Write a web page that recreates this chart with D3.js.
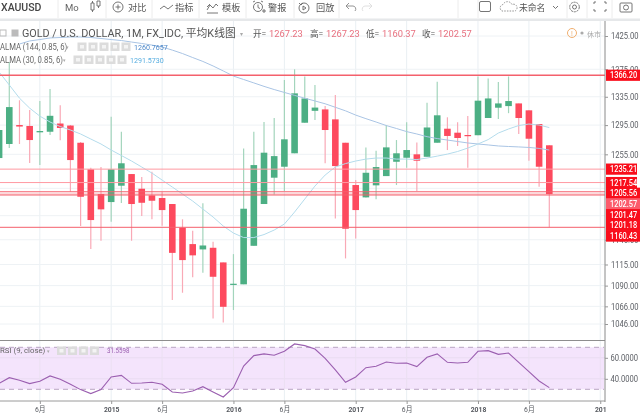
<!DOCTYPE html>
<html><head><meta charset="utf-8">
<script src="https://cdnjs.cloudflare.com/ajax/libs/d3/7.8.5/d3.min.js"></script>
<style>
html,body{margin:0;padding:0;background:#fff;overflow:hidden}
svg{display:block;filter:blur(0.4px)}
text{font-family:Roboto,"Noto Sans CJK SC",sans-serif}
</style></head><body><svg id="c" width="640" height="415"></svg>
<script>
const firstMonth = "2014-02";
const open = [1250,1269,1295.1,1293.8,1285,1285.8,1297.2,1294.4,1270.7,1235,1202.6,
 1192.3,1213.4,1228.7,1209.5,1200.9,1197.5,1189.8,1159.9,1139.7,1133.2,1135.2,1117.5,
 1091,1091.5,1137.6,1189.8,1223.9,1238.4,1256.4,1298.3,1315,1317,1303,1270.7,
 1214.3,1198.3,1213.9,1226,1245,1250.4,1255,1251.7,1270.7,1290,1284.5,1281.3,
 1281,1304.9,1319.4,1321.7,1325.5,1315.7,1296.5,1267.23];
const close = [1288.2,1320.3,1293,1274.4,1286.8,1308,1291,1247.3,1199.1,1169.5,1183,
 1235,1243,1189.8,1191.4,1194,1182.1,1129,1120.3,1126,1138,1100.4,1065.5,
 1092.2,1183.8,1240.6,1257.2,1252.6,1275.4,1339.9,1332.6,1319.6,1288.2,1239.3,1158.6,
 1182.1,1230.4,1238,1264.4,1256.4,1260.8,1246.4,1291.7,1308.7,1280,1277.2,1280,
 1329.4,1332.6,1325.5,1328.9,1304.9,1276.2,1238.4,1202.57];
const high = [1299,1385.7,1330,1316,1329,1346,1323,1295.1,1271.7,1237,1238,
 1306.7,1285.8,1228.7,1224.7,1231.7,1205.6,1189.8,1170.4,1156.2,1190.7,1142.5,1117.5,
 1127.5,1263,1285.8,1299.3,1304.9,1359.2,1375,1364.4,1352.1,1322,1337.5,1270.7,
 1220.8,1264.4,1259.9,1295.1,1274.4,1299,1271.2,1326.4,1356.7,1305.9,1299,1307.7,
 1364.4,1361.3,1356.2,1364.4,1325.5,1315.7,1296.5,1267.23];
const low = [1240.6,1263.5,1269,1243.3,1240.6,1281.3,1274,1205.6,1162,1133.6,1143.8,
 1167.4,1191,1143.8,1174.5,1170.4,1162.3,1073.2,1081.7,1099.7,1105.2,1052.3,1047.8,
 1061.8,1091.5,1137.6,1189.8,1202,1206.5,1256.4,1298.3,1302.1,1243,1171.6,1122.3,
 1146.7,1198.3,1195.8,1226,1214.3,1237,1206.5,1251.7,1270.7,1260.8,1266.2,1237,
 1281,1304.9,1303.5,1311.7,1282.7,1246.4,1212.1,1160.37];
const alma144 = [null,null,1412.8,1417.4,1419.6,1422,1422.7,1423.5,1423.5,1422.7,1421.2,
 1419.6,1418.1,1415.8,1413.6,1411.2,1408.2,1403.6,1398.4,1392.4,1386.6,1379.9,1372.5,
 1365,1360,1355,1350,1345.4,1341.2,1337,1332.9,1329,1325,1320,1315,
 1309,1304,1299.3,1294.4,1290.3,1286,1282.7,1279,1276.4,1274.4,1272.4,1270.4,
 1269,1267.7,1266.3,1265.6,1265,1264.3,1263,1260.77];
const alma30 = [1371,1352,1333,1318.8,1307.5,1299.3,1293,1288.2,1282.7,1275.8,1269,
 1260.8,1253.4,1246,1238,1230,1220.8,1211.7,1202.6,1193.6,1183.4,1173.3,1162,
 1153.3,1147.7,1147.7,1151.4,1157,1164.5,1179.6,1196.2,1213,1227.4,1238,1242.6,
 1246,1248.6,1250,1250,1248.6,1248.6,1248,1250,1252.6,1255.3,1258.8,1263.5,
 1269,1275,1284,1289.6,1294.4,1296.5,1295.1,1291.57];
const rsi = [35.7,41.1,38.6,35.4,37.6,42.7,39.5,34.8,29.7,25.9,29.7,
 41.7,43.3,35.7,36,36.7,34.8,27.5,26.5,28.4,32.5,27.5,22.7,
 31.6,52.2,62.1,63.7,62.4,66.2,73.2,71.6,68.4,59.5,48.4,36.7,
 41.7,50.6,51.9,56,54.8,55.1,51.6,60.5,63.7,55.7,55.1,55.7,
 66.2,66.8,63.3,64.6,55.7,46.8,37.9,31.56];
const priceTicks = [1425,1375,1335,1295,1255,1145,1115,1090,1066,1046];
const gridOnlyTicks = [1210,1175];
const rsiTicks = [60,40];
const timeTicks = ["2014-06","2015-01","2015-06","2016-01","2016-06","2017-01","2017-06","2018-01","2018-06","2019-01"];
const timeLabels = ["6月","2015","6月","2016","6月","2017","6月","2018","6月","201"];
const levels = [1366.20,1235.21,1217.54,1205.56,1202.57,1201.47,1201.18,1160.43];

const monthIndex = s => { const [y,m]=s.split("-").map(Number), [y0,m0]=firstMonth.split("-").map(Number); return (y-y0)*12+m-m0; };
const AX = 605, W = 640;
const x = d3.scaleLinear().domain([0,54]).range([-0.9,549.3]);
const y = d3.scaleLog().domain([1425,1046]).range([36,324]);
const yR = d3.scaleLinear().domain([70,30]).range([347.3,389.3]);
const idx = d3.range(open.length);
const svg = d3.select("#c");
const UP="#4caf84", DN="#fd4a5e", UPW="#a3d5bc", DNW="#f9a9b6", GRID="#e9eff3";
// the reference's small labels are taller than their width suggests: keep the width, raise the size
const condense = (sel,fs) => sel.each(function(){ const w=this.getComputedTextLength(); d3.select(this).style("font-size",fs+"px").attr("textLength",w).attr("lengthAdjust","spacingAndGlyphs"); });

// grid
const g = svg.append("g");
g.selectAll("line.v").data(timeTicks).join("line").attr("class","v").attr("x1",d=>x(monthIndex(d))).attr("x2",d=>x(monthIndex(d))).attr("y1",21).attr("y2",401).attr("stroke",GRID);
g.selectAll("line.h").data(priceTicks.concat(gridOnlyTicks)).join("line").attr("class","h").attr("x1",0).attr("x2",AX).attr("y1",d=>y(d)).attr("y2",d=>y(d)).attr("stroke","#eef2f5");

// RSI band
svg.append("rect").attr("x",0).attr("width",AX-1).attr("y",yR(70)).attr("height",yR(30)-yR(70)).attr("fill","#f4e4fc");
svg.selectAll("line.rg").data(rsiTicks).join("line").attr("class","rg").attr("x1",0).attr("x2",AX).attr("y1",d=>yR(d)).attr("y2",d=>yR(d)).attr("stroke","#e9dcf1");
svg.selectAll("line.rv").data(timeTicks).join("line").attr("class","rv").attr("x1",d=>x(monthIndex(d))).attr("x2",d=>x(monthIndex(d))).attr("y1",yR(70)).attr("y2",yR(30)).attr("stroke","#ebe0f2");
[70,30].forEach(v=>svg.append("line").attr("x1",0).attr("x2",AX-1).attr("y1",yR(v)).attr("y2",yR(v)).attr("stroke","#b9a5c4").attr("stroke-dasharray","5 4"));
svg.append("path").datum(idx).attr("fill","none").attr("stroke","#9b5fb0").attr("stroke-width",1.1)
 .attr("d",d3.line().x(i=>x(i)).y(i=>yR(rsi[i])));

// candles
const c = svg.append("g");
c.selectAll("line.w").data(idx).join("line").attr("class","w").attr("x1",i=>x(i)).attr("x2",i=>x(i)).attr("y1",i=>y(high[i])).attr("y2",i=>y(low[i]))
 .attr("stroke",i=>close[i]>=open[i]?UPW:DNW).attr("stroke-width",1.2);
c.selectAll("rect").data(idx).join("rect").attr("x",i=>x(i)-3.3).attr("width",6.6)
 .attr("y",i=>y(Math.max(open[i],close[i]))).attr("height",i=>Math.max(1.2,Math.abs(y(open[i])-y(close[i]))))
 .attr("fill",i=>close[i]>=open[i]?UP:DN);

// ALMA
const almaLine = s => d3.line().defined(i=>s[i]!=null).x(i=>x(i)).y(i=>y(s[i]))(idx);
svg.append("path").attr("d",almaLine(alma144)).attr("fill","none").attr("stroke","#a9c4e4").attr("stroke-width",1);
svg.append("path").attr("d",almaLine(alma30)).attr("fill","none").attr("stroke","#b4dcec").attr("stroke-width",1);

// level lines
svg.selectAll("line.lv").data(levels).join("line").attr("class","lv").attr("x1",0).attr("x2",AX).attr("y1",d=>y(d)).attr("y2",d=>y(d))
 .attr("stroke",d=>(d>1210&&d<1300)?"#ff9aa2":"#f4606c").attr("stroke-width",(d,i)=>i==0?1.4:1)
 .attr("stroke-opacity",d=>(d>1201&&d<1203)?0.55:1);

// panel borders
svg.append("line").attr("x1",0).attr("x2",AX).attr("y1",340.5).attr("y2",340.5).attr("stroke","#8e8e8e").attr("stroke-width",1);
svg.append("line").attr("x1",0).attr("x2",AX).attr("y1",401).attr("y2",401).attr("stroke","#9a9a9a");
svg.append("line").attr("x1",AX).attr("x2",AX).attr("y1",21).attr("y2",402).attr("stroke","#8a8a8a");

// axes
const axisStyle = s => { s.select(".domain").remove(); s.selectAll("line").attr("stroke","#999"); s.selectAll("text").attr("fill","#5d6066").style("font-size","7.6px").style("font-family","Roboto,sans-serif"); };
const pA = svg.append("g").attr("transform",`translate(${AX},0)`).call(d3.axisRight(y).tickValues(priceTicks).tickFormat(d3.format(".2f")).tickSize(3).tickPadding(3)).call(axisStyle);
condense(pA.selectAll("text"),9);
const rA = svg.append("g").attr("transform",`translate(${AX},0)`).call(d3.axisRight(yR).tickValues(rsiTicks).tickFormat(d3.format(".4f")).tickSize(3).tickPadding(2.5)).call(axisStyle);
condense(rA.selectAll("text"),9);
const xA = svg.append("g").attr("transform","translate(0,401)").call(d3.axisBottom(x).tickValues(timeTicks.map(monthIndex)).tickFormat((d,i)=>timeLabels[i]).tickSize(3).tickPadding(2.5)).call(axisStyle);
xA.selectAll("text").style("font-size","6.8px").style("font-weight",(d,i)=>timeLabels[i].length>2?"700":"400").attr("fill","#55585e").style("font-family",'Roboto,"Noto Sans CJK SC",sans-serif');
condense(xA.selectAll("text"),7.6);

// tags
let prev=-Infinity;
levels.forEach((v,i)=>{
  const yy=Math.max(y(v),prev+10.7); prev=yy;
  svg.append("rect").attr("x",AX+1).attr("y",yy-5.6).attr("width",W-AX-1-((v==1235.21||v==1217.54)?3:0)).attr("height",11.2).attr("fill",v==1202.57?"#fb5c6c":"#f90d1b");
  const t=svg.append("text").attr("x",AX+5).attr("y",yy+3).attr("fill","#fff").style("font-size","7.4px").style("font-weight",500).text(v.toFixed(2));
  condense(t,8.8);
});

// top toolbar
svg.append("rect").attr("x",0).attr("y",0).attr("width",W).attr("height",20).attr("fill","#fff");
svg.append("rect").attr("x",0).attr("y",18.5).attr("width",W).attr("height",2.5).attr("fill","#e6e8ea");
[58,106,152,199,246,294,339,458,478,567,587,612].forEach(v=>svg.append("line").attr("x1",v).attr("x2",v).attr("y1",0).attr("y2",18).attr("stroke","#ececec"));
const T=(t,xx,yy,fs,col,wt)=>svg.append("text").attr("x",xx).attr("y",yy).attr("fill",col||"#555").style("font-size",fs+"px").style("font-weight",wt||400).text(t);
T("XAUUSD",1,11,10.5,"#444",500);
T("Mo",65,11,9.5,"#666");
T("对比",128,11,9.2);T("指标",175,11,9.2);T("模板",222,11,9.2);T("警报",268,11,9.2);T("回放",316,11,9.2);
T("未命名",519,11,8.8);
const ic = svg.append("g").attr("fill","none").attr("stroke","#666").attr("stroke-width",0.9);
ic.append("path").attr("d","M91 3h3v7h-3zM97 1h3v5h-3zM92.5 1v2M92.5 10v2M98.5 6v2");
ic.append("circle").attr("cx",118).attr("cy",7).attr("r",5);ic.append("path").attr("d","M115.5 7h5M118 4.5v5");
ic.append("path").attr("d","M160 9l4-3 4 3 5-4");
ic.append("path").attr("d","M207 10l3-5 3 3 3-4 2 2M207 13h11M207 7l3-3");
ic.append("circle").attr("cx",258).attr("cy",7).attr("r",4.5);ic.append("path").attr("d","M258 4.5v3l2 1M253 2l2-1M261 1l2 1M262 11h4M264 9v4");
ic.append("circle").attr("cx",304).attr("cy",8).attr("r",5);ic.append("path").attr("d","M303 6l3 2-3 2zM299 3l2 2 2-2");
ic.append("path").attr("d","M346 6l3-3M346 6l3 3M346 6h7a3 3 0 0 1 2 5").attr("stroke","#888");
ic.append("path").attr("d","M372 6l-3-3M372 6l-3 3M372 6h-7a3 3 0 0 0 -2 5").attr("stroke","#ddd");
ic.append("rect").attr("x",479.5).attr("y",1.5).attr("width",11).attr("height",10).attr("rx",1.5);
ic.append("path").attr("d","M503 11h-1a3.5 3.5 0 0 1 1-6.5a5 5 0 0 1 9 0a3.5 3.5 0 0 1 3 6.5z").attr("stroke-dasharray","1.5 1.2").attr("stroke","#888");
ic.append("path").attr("d","M553 6l2.5 2.5 2.5-2.5");
ic.append("circle").attr("cx",574.5).attr("cy",7).attr("r",2);ic.append("circle").attr("cx",574.5).attr("cy",7).attr("r",4.8).attr("stroke-dasharray","2.2 0.8");
ic.append("path").attr("d","M594 2h2M604 2h2M594 2v2M606 2v2M594 9v2h2M606 9v2h-2");
ic.append("rect").attr("x",620).attr("y",3).attr("width",12).attr("height",9).attr("rx",1);ic.append("circle").attr("cx",626).attr("cy",7.5).attr("r",2.5);

// legend row
const lg = svg.append("g").attr("fill","none").attr("stroke","#bbb");
lg.append("rect").attr("x",0).attr("y",30).attr("width",6).attr("height",6);
lg.append("rect").attr("x",12).attr("y",30).attr("width",6).attr("height",6).attr("fill","#bbb");
T("GOLD / U.S. DOLLAR, 1M, FX_IDC, 平均K线图",22,37,10.8,"#555");
T("▾",240,36,6,"#aaa");
const red="#e8707f";
T("开=",253,37,8.6);T("1267.23",269,37,9.3,red);
T("高=",310,37,8.6);T("1267.23",326,37,9.3,red);
T("低=",366,37,8.6);T("1160.37",382,37,9.3,red);
T("收=",422,37,8.6);T("1202.57",438,37,9.3,red);
svg.append("circle").attr("cx",572).attr("cy",33).attr("r",4.5).attr("fill","none").attr("stroke","#f0ae6e");
T("!",571,36,7,"#f0ae6e");
svg.append("circle").attr("cx",582).attr("cy",33).attr("r",1.6).attr("fill","#aaa");
T("休市",587,36.5,7,"#aaa");

const buttons=(x0,yy,n,st)=>{for(let i=0;i<n;i++){svg.append("rect").attr("x",x0+i*st).attr("y",yy-4).attr("width",9).attr("height",8.5).attr("fill","#dcdcdc");svg.append("rect").attr("x",x0+i*st+2.5).attr("y",yy-1.5).attr("width",4).attr("height",3.5).attr("fill","#f4f4f4");}};
condense(T("ALMA (144, 0.85, 6)",0,49.5,7.7,"#666"),8.6);T("▾",66,49,5,"#aaa");buttons(77.5,46.5,5,11);condense(T("1260.7657",134,49.5,7.1,"#4a86c8"),8);
condense(T("ALMA (30, 0.85, 6)",0,63,7.7,"#666"),8.6);T("▾",63,62,5,"#aaa");buttons(73.5,59.5,5,11);condense(T("1291.5730",130,63,7.1,"#58aee0"),8);
T("RSI (9, close)",0,353,7.8,"#666");T("▾",47,353,5,"#aaa");buttons(57,350.5,4,11);condense(T("31.5598",107,353,6.2,"#9b5fb0"),7);
</script></body></html>
